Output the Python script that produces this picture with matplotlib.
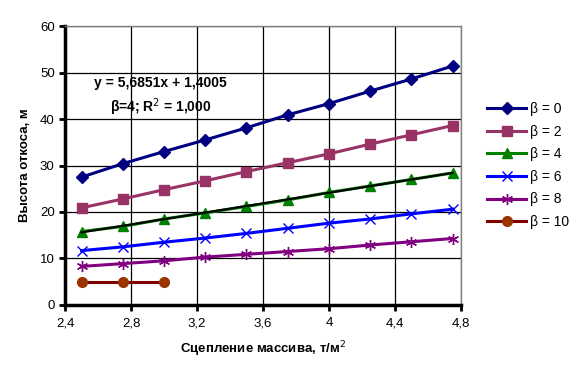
import matplotlib
matplotlib.use("Agg")
import matplotlib.pyplot as plt
from matplotlib.ticker import FuncFormatter, MultipleLocator
import numpy as np

plt.rcParams["font.family"] = ["Liberation Sans", "DejaVu Sans"]

# ─── Data ───────────────────────────────────────────────────────────────────
cohesion = [2.5, 2.75, 3.0, 3.25, 3.5, 3.75, 4.0, 4.25, 4.5, 4.75]

h_beta0 = [27.5, 30.4, 33.0, 35.5, 38.1, 40.9, 43.3, 46.0, 48.6, 51.4]
h_beta2 = [20.9, 22.8, 24.8, 26.7, 28.7, 30.6, 32.5, 34.6, 36.6, 38.6]
h_beta4 = [15.8, 16.9, 18.5, 19.8, 21.2, 22.6, 24.2, 25.6, 27.0, 28.4]
h_beta6 = [11.7, 12.5, 13.5, 14.4, 15.4, 16.5, 17.6, 18.5, 19.6, 20.6]
h_beta8 = [8.3, 8.9, 9.5, 10.3, 10.9, 11.5, 12.1, 12.9, 13.6, 14.3]
h_beta10 = [5.0, 5.0, 5.0]

# linear trend for beta = 4
trend_slope = 5.6851
trend_icept = 1.4005

series = [
    ("β = 0", cohesion, h_beta0, "#000080", "#000080", "D", 6),
    ("β = 2", cohesion, h_beta2, "#993366", "#993366", "s", 7),
    ("β = 4", cohesion, h_beta4, "#008000", "#008000", "^", 7),
    ("β = 6", cohesion, h_beta6, "#0000FF", "#0000FF", "x", 7),
    ("β = 8", cohesion, h_beta8, "#800080", "#800080", (6, 2, 0), 8),
    ("β = 10", cohesion[:3], h_beta10, "#800000", "#993300", "o", 7),
]

# ─── Plot ───────────────────────────────────────────────────────────────────
fig = plt.figure(figsize=(5.76, 3.77), dpi=100)
ax = fig.add_axes([0.113, 0.191, 0.687, 0.740])

for label, xs, ys, lc, mc, marker, ms in series:
    ax.plot(xs, ys, color=lc, linewidth=2.2, marker=marker, markersize=ms,
            markerfacecolor=mc, markeredgecolor=mc, markeredgewidth=1.0,
            label=label, zorder=3)

xt = np.array([cohesion[0], cohesion[-1]])
ax.plot(xt, trend_slope * xt + trend_icept, color="black", linewidth=1.5, zorder=4)

ax.set_xlim(2.4, 4.8)
ax.set_ylim(0, 60)
ax.xaxis.set_major_locator(MultipleLocator(0.4))
ax.yaxis.set_major_locator(MultipleLocator(10))
ax.xaxis.set_major_formatter(FuncFormatter(lambda v, p: f"{v:g}".replace(".", ",")))
ax.grid(True, color="black", linewidth=0.9)
ax.set_axisbelow(True)

for side in ("left", "bottom"):
    ax.spines[side].set_linewidth(2.5)
    ax.spines[side].set_color("black")
for side in ("top", "right"):
    ax.spines[side].set_linewidth(1.0)
    ax.spines[side].set_color("#808080")

ax.tick_params(axis="both", direction="out", length=4, width=2, labelsize=9.5)
ax.tick_params(axis="x", pad=5)

ax.set_xlabel("Сцепление массива, т/м$^2$", fontsize=9.5, fontweight="bold", labelpad=7)
ax.set_ylabel("Высота откоса, м", fontsize=9.5, fontweight="bold", labelpad=6)

ax.text(2.98, 47.7, "y = 5,6851x + 1,4005", fontsize=10, fontweight="bold",
        ha="center", va="center")
ax.text(2.98, 42.5, "β=4; R$^2$ = 1,000", fontsize=10, fontweight="bold",
        ha="center", va="center")

ax.legend(loc="center left", bbox_to_anchor=(1.035, 0.5), frameon=False,
          fontsize=10, handlelength=2.8, labelspacing=0.62, handletextpad=0.25)

fig.savefig("out.png", dpi=100)
